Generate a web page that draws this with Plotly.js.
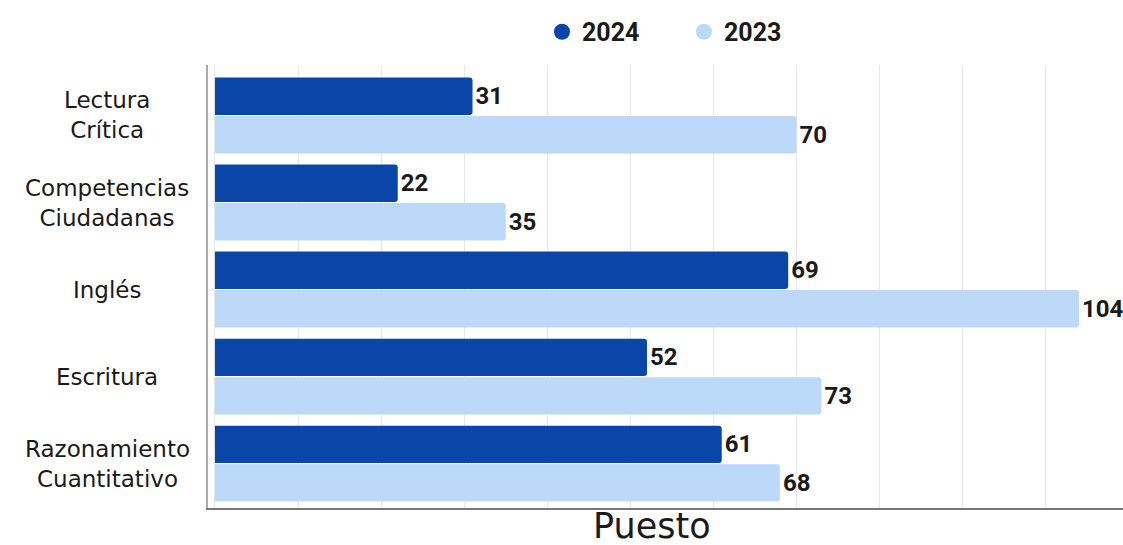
<!DOCTYPE html>
<html>
<head>
<meta charset="utf-8">
<script src="https://cdn.plot.ly/plotly-3.0.1.min.js"></script>
<style>html,body{margin:0;padding:0;background:#fff;}#chart{width:1123px;height:545px;}</style>
</head>
<body>
<div id="chart"></div>
<script>
var categories = ["Lectura<br>Crítica", "Competencias<br>Ciudadanas", "Inglés", "Escritura", "Razonamiento<br>Cuantitativo"];
var series2024 = [31, 22, 69, 52, 61];
var series2023 = [70, 35, 104, 73, 68];
var seriesNames = ["2024", "2023"];
var axisTitle = "Puesto";

var dark = "#0A46A8";
var light = "#BDD9F9";
var numFont = {family: "Roboto", size: 24, color: "#1a1a1a", weight: 700};

var bar2024 = {
  type: "bar", orientation: "h", y: categories, x: series2024, name: seriesNames[0],
  marker: {color: dark, cornerradius: 3}, text: series2024.map(String), textposition: "outside",
  textfont: numFont, cliponaxis: false, showlegend: false, hoverinfo: "x+y"
};
var bar2023 = {
  type: "bar", orientation: "h", y: categories, x: series2023, name: seriesNames[1],
  marker: {color: light, cornerradius: 3}, text: series2023.map(String), textposition: "outside",
  textfont: numFont, cliponaxis: false, showlegend: false, hoverinfo: "x+y"
};
var leg2024 = {type: "scatter", mode: "markers", x: [null], y: [null], name: seriesNames[0],
  marker: {symbol: "circle", size: 26, color: dark}, showlegend: true};
var leg2023 = {type: "scatter", mode: "markers", x: [null], y: [null], name: seriesNames[1],
  marker: {symbol: "circle", size: 26, color: light}, showlegend: true};

var annotations = categories.map(function(c) {
  return {xref: "paper", yref: "y", x: -0.110, y: c, text: c, showarrow: false,
    xanchor: "center", yanchor: "middle", align: "center",
    font: {family: "DejaVu Sans", size: 23, color: "#1a1a1a"}};
});
annotations.push({xref: "paper", yref: "paper", x: 0.485, y: -0.041, yanchor: "middle", xanchor: "center",
  text: axisTitle, showarrow: false, font: {family: "DejaVu Sans", size: 35, color: "#1a1a1a"}});

var layout = {
  width: 1123, height: 545,
  margin: {l: 208, r: 0, t: 65, b: 37},
  paper_bgcolor: "#fff", plot_bgcolor: "#fff",
  barmode: "group", bargap: 0.115, bargroupgap: 0.03,
  showlegend: true,
  legend: {orientation: "h", x: 0.365, xanchor: "left", y: 1.0745, yanchor: "middle",
    entrywidth: 97, entrywidthmode: "pixels",
    font: {family: "Roboto", size: 25, color: "#1a1a1a", weight: 700}, itemwidth: 30, traceorder: "normal"},
  xaxis: {range: [-0.84, 109.3], dtick: 10, tick0: 0, showticklabels: false, ticks: "",
    showgrid: true, gridcolor: "#e6e6e6", gridwidth: 1, zeroline: false,
    showline: true, linecolor: "#777", linewidth: 2, fixedrange: true},
  yaxis: {type: "category", categoryorder: "array", categoryarray: categories,
    range: [4.51, -0.58], showticklabels: false, ticks: "", showgrid: false, zeroline: false,
    showline: true, linecolor: "#aaa", linewidth: 2, fixedrange: true},
  annotations: annotations
};

Plotly.newPlot("chart", [bar2024, bar2023, leg2024, leg2023], layout, {displayModeBar: false, staticPlot: true});
</script>
</body>
</html>
